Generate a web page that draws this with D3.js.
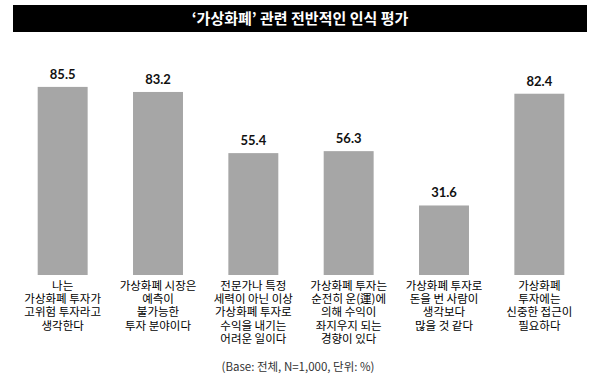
<!DOCTYPE html>
<html>
<head>
<meta charset="utf-8">
<script src="https://cdn.jsdelivr.net/npm/d3@7"></script>
<style>
  html, body { margin: 0; padding: 0; background: #fff; }
  svg { display: block; }
</style>
</head>
<body>
<svg id="chart" width="600" height="384"></svg>
<script>
const title = "‘가상화폐’ 관련 전반적인 인식 평가";
const categories = [
  ["나는", "가상화폐 투자가", "고위험 투자라고", "생각한다"],
  ["가상화폐 시장은", "예측이", "불가능한", "투자 분야이다"],
  ["전문가나 특정", "세력이 아닌 이상", "가상화폐 투자로", "수익을 내기는", "어려운 일이다"],
  ["가상화폐 투자는", "순전히 운(運)에", "의해 수익이", "좌지우지 되는", "경향이 있다"],
  ["가상화폐 투자로", "돈을 번 사람이", "생각보다", "많을 것 같다"],
  ["가상화폐", "투자에는", "신중한 접근이", "필요하다"]
];
const values = [85.5, 83.2, 55.4, 56.3, 31.6, 82.4];
const footnote = "(Base: 전체, N=1,000, 단위: %)";

const svg = d3.select("#chart");
const korFont = "'Noto Sans CJK KR', 'Noto Sans', sans-serif";

// Title bar
svg.append("rect").attr("x", 13).attr("y", 5).attr("width", 574).attr("height", 27).attr("fill", "#000");
svg.append("text")
  .attr("x", 300).attr("y", 24)
  .attr("text-anchor", "middle")
  .attr("fill", "#fff")
  .attr("font-family", korFont)
  .attr("font-weight", "bold")
  .attr("font-size", 15)
  .text(title);

const idx = d3.range(values.length);
const x = d3.scaleBand().domain(idx).range([15, 587]).paddingInner(0.476).paddingOuter(0.238);
const y = d3.scaleLinear().domain([0, 100]).range([275, 55]);

svg.append("g").selectAll("rect").data(idx).join("rect")
  .attr("x", i => x(i))
  .attr("y", i => y(values[i]))
  .attr("width", x.bandwidth())
  .attr("height", i => y(0) - y(values[i]))
  .attr("fill", "#a6a6a6");

svg.append("g").selectAll("text").data(idx).join("text")
  .attr("x", i => x(i) + x.bandwidth() / 2)
  .attr("y", i => y(values[i]) - 8)
  .attr("text-anchor", "middle")
  .attr("font-family", "Lato, 'DejaVu Sans', sans-serif")
  .attr("font-weight", "bold")
  .attr("font-size", 13)
  .attr("fill", "#111")
  .text(i => values[i].toFixed(1));

const labelG = svg.append("g");
idx.forEach(i => {
  categories[i].forEach((line, j) => {
    labelG.append("text")
      .attr("text-anchor", "middle")
      .attr("font-family", korFont)
      .attr("font-size", 11.5)
      .attr("fill", "#000")
      .attr("x", x(i) + x.bandwidth() / 2)
      .attr("y", 289.5 + j * 13.4)
      .text(line);
  });
});

svg.append("text")
  .attr("x", 298).attr("y", 371)
  .attr("text-anchor", "middle")
  .attr("font-family", korFont)
  .attr("font-size", 11.5)
  .attr("fill", "#333")
  .text(footnote);
</script>
</body>
</html>
